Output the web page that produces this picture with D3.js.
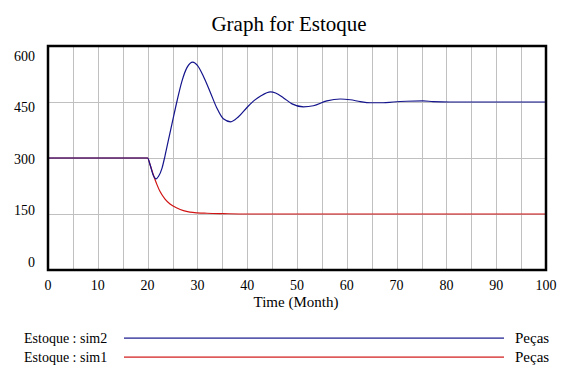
<!DOCTYPE html>
<html>
<head>
<meta charset="utf-8">
<script src="https://cdn.jsdelivr.net/npm/d3@7"></script>
<style>
  body { margin: 0; background: #fff; }
</style>
</head>
<body>
<div id="chart"></div>
<script>
// data
var sim2Time  = [0, 20, 20.5, 21.1, 21.7, 22.2, 22.9, 23.5, 24.2, 25, 25.9, 26.9, 27.9, 29.1, 30, 31.2, 32.5, 33.9, 35.2, 36.7, 38.2, 40, 41.5, 42.7, 44.7, 45.7, 47.3, 49, 51.3, 53.3, 56, 58.7, 60.7, 62.7, 64.7, 67.3, 69.3, 72, 75.3, 77.3, 80.7, 100]
var sim2Value = [300, 300, 282, 255, 244, 251, 273, 306, 349, 398, 452, 506, 542, 557, 548, 519, 479, 434, 405, 397, 410, 436, 455, 466, 477, 474, 461, 445, 437, 440, 453, 458, 456, 451, 448, 448, 450, 452, 453, 451, 450, 450]
var sim1Time  = [0, 20, 20.5, 21.2, 21.9, 22.5, 23.5, 24.5, 25.9, 27.2, 28.5, 30, 31.9, 35.2, 40, 100]
var sim1Value = [300, 300, 282, 253, 228, 210, 190, 177, 166, 159, 155, 153, 152, 151, 150, 150]

var xTicks = [0, 10, 20, 30, 40, 50, 60, 70, 80, 90, 100]
var xGrid  = [5, 10, 15, 20, 25, 30, 35, 40, 45, 50, 55, 60, 65, 70, 75, 80, 85, 90, 95]
var yTicks = [0, 150, 300, 450, 600]
var yGrid  = [150, 300, 450]

var seriesNames = ['Estoque : sim2', 'Estoque : sim1']
var seriesUnits = ['Peças', 'Peças']
var colors = ['#14148c', '#d01414']

var width = 576, height = 385
var plot = {left: 48, right: 546, top: 46, bottom: 270}
var serif = '"Liberation Serif"'

var svg = d3.select('#chart').append('svg')
	.attr('width', width)
	.attr('height', height)

svg.append('rect').attr('width', width).attr('height', height).attr('fill', '#fff')

var x = d3.scaleLinear().domain([0, 100]).range([plot.left, plot.right])
var y = d3.scaleLinear().domain([0, 600]).range([plot.bottom, plot.top])
// tick labels sit on their own evenly spread positions
var yLab = d3.scaleLinear().domain([0, 600]).range([261.7, 56])

function label(sel, size) {
	return sel.style('font-family', serif).style('font-size', size + 'px')
}

//title
label(svg.append('text'), 21)
	.attr('x', 289).attr('y', 31)
	.attr('text-anchor', 'middle')
	.text('Graph for Estoque')

//grid
svg.append('g').selectAll('line').data(xGrid).enter().append('line')
	.attr('x1', function(d){ return Math.round(x(d)) + 0.5 })
	.attr('x2', function(d){ return Math.round(x(d)) + 0.5 })
	.attr('y1', plot.top).attr('y2', plot.bottom)
	.attr('stroke', '#c0c0c0').attr('stroke-width', 1)

svg.append('g').selectAll('line').data(yGrid).enter().append('line')
	.attr('y1', function(d){ return Math.round(y(d)) + 0.5 })
	.attr('y2', function(d){ return Math.round(y(d)) + 0.5 })
	.attr('x1', plot.left).attr('x2', plot.right)
	.attr('stroke', '#c0c0c0').attr('stroke-width', 1)

//lines
var line = d3.line()
	.x(function(d){ return x(d[0]) })
	.y(function(d){ return y(d[1]) })
	.curve(d3.curveMonotoneX)

var s1 = sim1Time.map(function(t, i){ return [t, sim1Value[i]] })
var s2 = sim2Time.map(function(t, i){ return [t, sim2Value[i]] })

svg.append('path').datum(s1).attr('d', line)
	.attr('fill', 'none').style('stroke', colors[1]).attr('stroke-width', 1.2)
svg.append('path').datum(s2).attr('d', line)
	.attr('fill', 'none').style('stroke', colors[0]).attr('stroke-width', 1.2)

//frame
svg.append('rect')
	.attr('x', plot.left).attr('y', plot.top)
	.attr('width', plot.right - plot.left).attr('height', plot.bottom - plot.top)
	.attr('fill', 'none').attr('stroke', '#000').attr('stroke-width', 2.5)

//axis labels
label(svg.append('g').selectAll('text').data(xTicks).enter().append('text'), 14)
	.attr('x', function(d){ return x(d) })
	.attr('y', 290)
	.attr('text-anchor', 'middle')
	.text(String)

label(svg.append('g').selectAll('text').data(yTicks).enter().append('text'), 14)
	.attr('x', 35)
	.attr('y', function(d){ return yLab(d) })
	.attr('dy', '0.35em')
	.attr('text-anchor', 'end')
	.text(String)

label(svg.append('text'), 15)
	.attr('x', 296).attr('y', 307)
	.attr('text-anchor', 'middle')
	.text('Time (Month)')

//legend
seriesNames.forEach(function(name, i) {
	var ly = 338 + i * 19
	label(svg.append('text'), 14).attr('x', 24).attr('y', ly).attr('dy', '0.35em').text(name)
	svg.append('rect')
		.attr('x', 124).attr('y', ly - 0.5).attr('width', 380).attr('height', 1.2)
		.style('fill', colors[i])
	label(svg.append('text'), 15).attr('x', 515).attr('y', ly).attr('dy', '0.35em').text(seriesUnits[i])
})
</script>
</body>
</html>
